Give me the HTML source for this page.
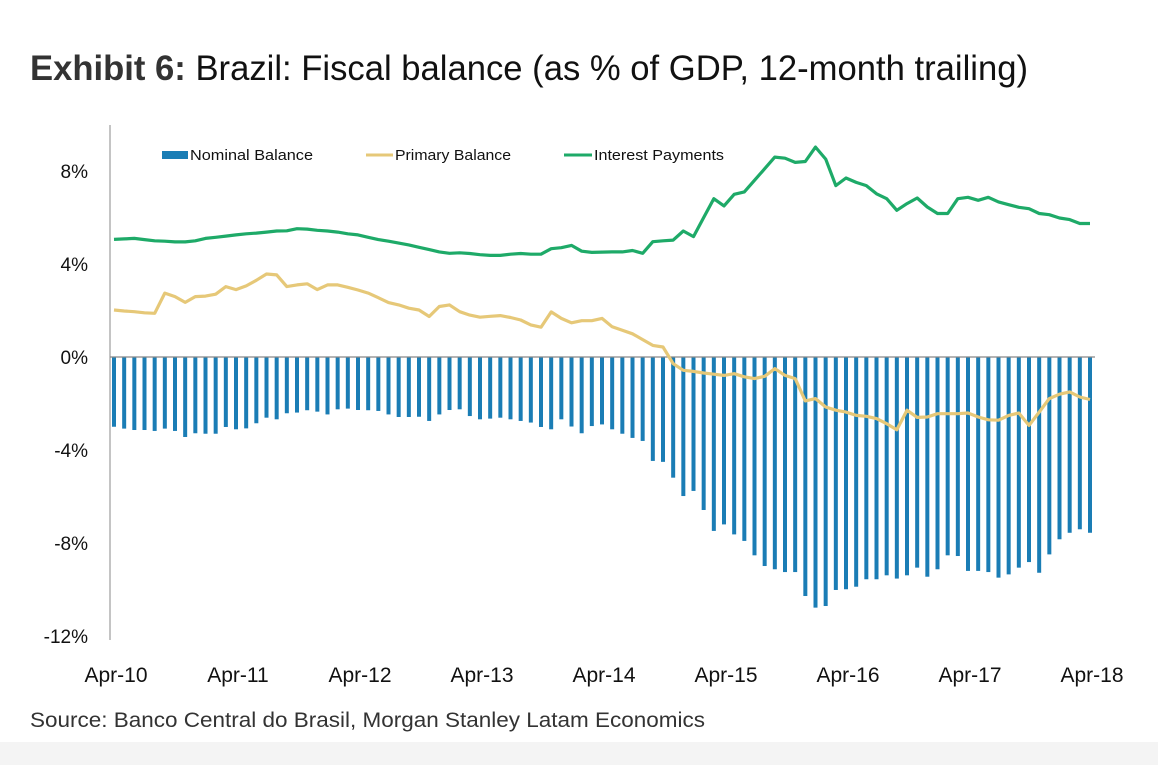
<!DOCTYPE html>
<html><head><meta charset="utf-8"><style>
html,body{margin:0;padding:0;background:#fff;}
svg{display:block;font-family:"Liberation Sans",sans-serif;}
</style></head><body>
<svg id="chart" width="1158" height="765" viewBox="0 0 1158 765">
<rect x="0" y="742" width="1158" height="23" fill="#f4f4f4"/>
<text x="30" y="80" font-size="35" textLength="998" lengthAdjust="spacingAndGlyphs" fill="#111"><tspan font-weight="bold" fill="#333">Exhibit 6:</tspan>  Brazil: Fiscal balance (as % of GDP, 12-month trailing)</text>
<g id="yticks"></g>
<g id="bars"></g>
<line x1="110" y1="357" x2="1095" y2="357" stroke="#888" stroke-width="1.2"/>
<line x1="110" y1="125" x2="110" y2="640" stroke="#888" stroke-width="1"/>
<g id="lines"></g>
<g id="xticks"></g>
<g>
<rect x="162" y="151" width="26" height="8" fill="#1a7db5"/>
<text x="190" y="160" font-size="15" textLength="123" lengthAdjust="spacingAndGlyphs" fill="#111">Nominal Balance</text>
<line x1="366" y1="155" x2="393" y2="155" stroke="#e6c878" stroke-width="3"/>
<text x="395" y="160" font-size="15" textLength="116" lengthAdjust="spacingAndGlyphs" fill="#111">Primary Balance</text>
<line x1="564" y1="155" x2="592" y2="155" stroke="#1eaa68" stroke-width="3"/>
<text x="594" y="160" font-size="15" textLength="130" lengthAdjust="spacingAndGlyphs" fill="#111">Interest Payments</text>
</g>
<text x="30" y="727" font-size="21" textLength="675" lengthAdjust="spacingAndGlyphs" fill="#333">Source: Banco Central do Brasil, Morgan Stanley Latam Economics</text>
</svg>
<script>
const xLabels=["Apr-10","Apr-11","Apr-12","Apr-13","Apr-14","Apr-15","Apr-16","Apr-17","Apr-18"];
const yTicks=[8,4,0,-4,-8,-12];
const nominal=[-3.0,-3.08,-3.14,-3.14,-3.18,-3.08,-3.18,-3.44,-3.28,-3.3,
-3.3,-3.01,-3.11,-3.07,-2.85,-2.61,-2.68,-2.42,-2.39,-2.29,
-2.35,-2.47,-2.25,-2.22,-2.28,-2.29,-2.32,-2.47,-2.58,-2.58,
-2.57,-2.75,-2.47,-2.28,-2.25,-2.54,-2.68,-2.65,-2.61,-2.68,
-2.75,-2.82,-3.01,-3.11,-2.68,-2.99,-3.28,-2.97,-2.9,-3.11,
-3.3,-3.48,-3.61,-4.47,-4.51,-5.19,-5.98,-5.76,-6.58,-7.48,
-7.2,-7.63,-7.91,-8.53,-8.99,-9.13,-9.25,-9.25,-10.28,-10.78,
-10.71,-10.02,-9.99,-9.88,-9.56,-9.56,-9.39,-9.53,-9.39,-9.06,
-9.45,-9.13,-8.53,-8.56,-9.2,-9.2,-9.25,-9.49,-9.35,-9.06,
-8.82,-9.28,-8.49,-7.84,-7.56,-7.41,-7.56];
const primary=[2.02,1.98,1.95,1.9,1.88,2.75,2.6,2.35,2.6,2.62,
2.7,3.03,2.9,3.06,3.3,3.57,3.53,3.03,3.1,3.15,
2.9,3.1,3.1,3.0,2.88,2.75,2.55,2.34,2.24,2.1,
2.02,1.74,2.17,2.24,1.95,1.8,1.71,1.75,1.78,1.7,
1.59,1.38,1.28,1.94,1.66,1.47,1.56,1.56,1.66,1.3,
1.15,1.0,0.75,0.5,0.43,-0.29,-0.57,-0.62,-0.69,-0.74,
-0.79,-0.72,-0.85,-0.93,-0.83,-0.5,-0.79,-0.93,-1.89,-1.79,
-2.15,-2.29,-2.37,-2.51,-2.55,-2.65,-2.87,-3.13,-2.29,-2.6,
-2.58,-2.44,-2.44,-2.44,-2.41,-2.58,-2.7,-2.72,-2.51,-2.41,
-2.94,-2.37,-1.79,-1.6,-1.5,-1.72,-1.83];
const interest=[5.06,5.08,5.1,5.05,5.0,4.98,4.95,4.95,5.0,5.1,
5.15,5.2,5.25,5.3,5.33,5.37,5.42,5.43,5.52,5.5,
5.45,5.42,5.37,5.3,5.25,5.15,5.05,4.98,4.9,4.82,
4.72,4.62,4.52,4.46,4.48,4.45,4.4,4.37,4.37,4.42,
4.45,4.42,4.42,4.66,4.7,4.8,4.55,4.5,4.51,4.52,
4.52,4.58,4.46,4.96,5.0,5.03,5.42,5.18,6.0,6.81,
6.5,7.0,7.1,7.6,8.1,8.6,8.55,8.37,8.41,9.03,
8.51,7.37,7.7,7.51,7.37,7.02,6.81,6.31,6.6,6.84,
6.45,6.17,6.17,6.81,6.87,6.74,6.87,6.67,6.55,6.44,
6.38,6.17,6.12,5.98,5.91,5.74,5.74];
const NS="http://www.w3.org/2000/svg";
function xPos(i){return 114+i*(1090-114)/96;}
function yPos(v){return 357-v*23.25;}
function mk(tag,attrs,parent){const e=document.createElementNS(NS,tag);for(const k in attrs)e.setAttribute(k,attrs[k]);parent.appendChild(e);return e;}
const gy=document.getElementById('yticks');
yTicks.forEach(v=>{const t=mk('text',{x:88,y:yPos(v)+7,'font-size':19,'text-anchor':'end',fill:'#111'},gy);t.textContent=v+'%';

});
const gx=document.getElementById('xticks');
xLabels.forEach((l,k)=>{const t=mk('text',{x:xPos(k*12)+2,y:682,'font-size':21,'text-anchor':'middle',fill:'#111'},gx);t.textContent=l;

});
const gb=document.getElementById('bars');
nominal.forEach((v,i)=>{const y0=yPos(0),y1=yPos(v);const r=mk('rect',{x:xPos(i)-2,y:Math.min(y0,y1),width:4,height:Math.abs(y1-y0),fill:'#1a7db5'},gb);

});
const gl=document.getElementById('lines');
function line(arr,col,name){const p=mk('polyline',{points:arr.map((v,i)=>xPos(i).toFixed(1)+','+yPos(v).toFixed(1)).join(' '),fill:'none',stroke:col,'stroke-width':3.2,'stroke-linejoin':'round'},gl);

}
line(primary,'#e6c878','primary-balance-line');
line(interest,'#1eaa68','interest-payments-line');
</script>
</body></html>
